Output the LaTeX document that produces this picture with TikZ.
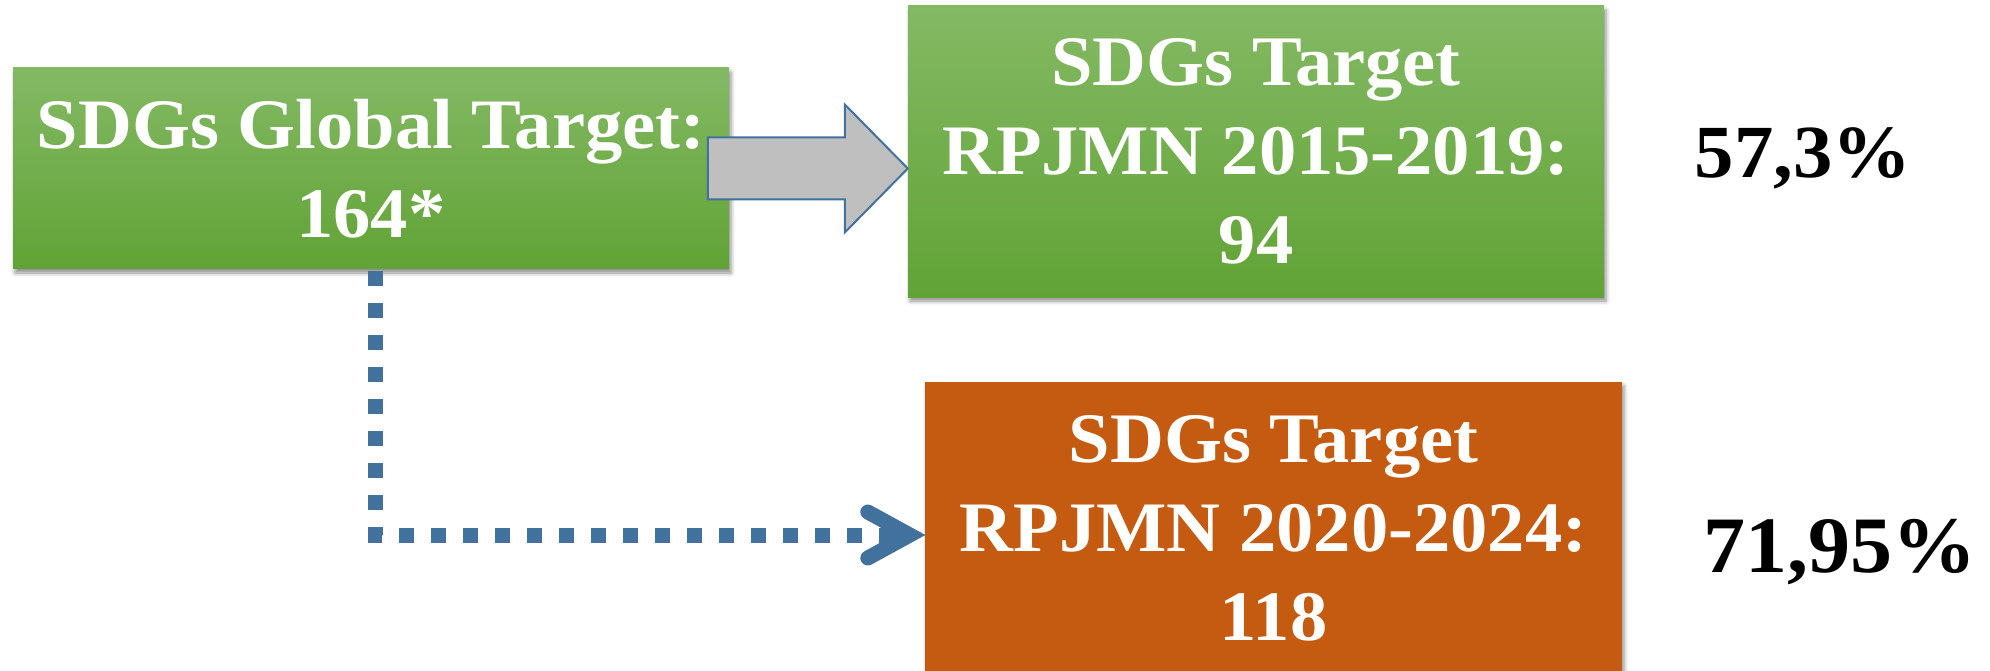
\documentclass[tikz,border=0pt]{standalone}
\usepackage{fontspec}
\setmainfont{Liberation Serif}[FakeStretch=1.05]
\usetikzlibrary{calc,shadows.blur}

\definecolor{greentop}{HTML}{84B964}
\definecolor{greenbot}{HTML}{61A336}
\definecolor{rust}{HTML}{C55A11}
\definecolor{steel}{HTML}{41719C}
\definecolor{arrowgray}{HTML}{BFBFBF}

\begin{document}
\begin{tikzpicture}[x=1pt,y=-1pt,
  box/.style={rectangle, inner sep=0pt, align=center, text=white,
    font=\bfseries\fontsize{71}{89}\selectfont,
    blur shadow={shadow xshift=2pt, shadow yshift=-4pt,
      shadow blur radius=4pt, shadow opacity=45}},
  greenbox/.style={box, top color=greentop, bottom color=greenbot},
  rustbox/.style={box, fill=rust},
  blockarrow/.style={fill=arrowgray, draw=steel, line width=2pt, line join=miter},
  dotline/.style={draw=steel, line width=15pt, line cap=butt,
    dash pattern=on 15pt off 17pt},
  chevron/.style={draw=steel, line width=15pt, line cap=round, line join=miter},
  pct/.style={anchor=base, text=black, inner sep=0pt}]

\useasboundingbox (0,0) rectangle (1990,671);

% target boxes
\node[greenbox, minimum width=716pt, minimum height=201pt] (g1) at (371,168.5)
  {SDGs Global Target:\\164*};
\node[greenbox, minimum width=696pt, minimum height=291pt] (g2) at (1256,151.5)
  {SDGs Target\\RPJMN 2015-2019:\\94};
\node[rustbox, minimum width=697pt, minimum height=292pt] (o1) at (1273.5,528)
  {SDGs Target\\RPJMN 2020-2024:\\118};

% block arrow from the global box to the 2015-2019 box
\coordinate (tip) at (g2.west |- g1.east);
\draw[blockarrow] ($(tip)+(-200,-31)$) -- ($(tip)+(-63,-31)$) -- ($(tip)+(-63,-64)$)
  -- (tip) -- ($(tip)+(-63,64)$) -- ($(tip)+(-63,31)$) -- ($(tip)+(-200,31)$) -- cycle;

% dotted elbow connector to the 2020-2024 box
\coordinate (dtip) at ($(o1.west)+(-15,7)$);
\draw[dotline] ([xshift=4pt,yshift=-2pt]g1.south) |- ($(dtip)+(-6,0)$);
\draw[chevron] ($(dtip)+(-42,-23)$) -- (dtip) -- ($(dtip)+(-42,23)$);

% shares
\node[pct, font=\bfseries\fontsize{75}{75}\selectfont] (p1) at (1803,178) {57,3\%};
\node[pct, font=\bfseries\fontsize{80}{80}\selectfont] (p2) at (1840,572) {71,95\%};
\end{tikzpicture}
\end{document}
